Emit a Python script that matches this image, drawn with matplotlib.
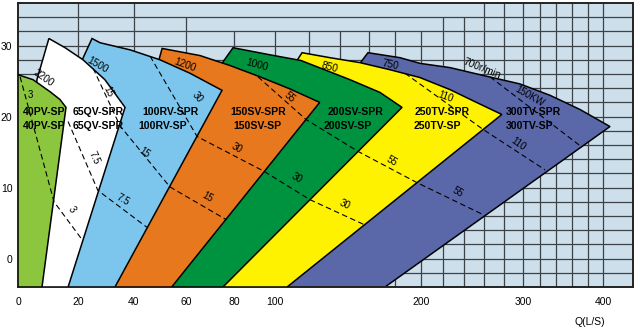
import numpy as np
import matplotlib.pyplot as plt
from matplotlib.patches import Polygon

plt.rcParams['font.family'] = ['Liberation Sans', 'DejaVu Sans']

# chart paper for Q: grid every 20 L/s, squeezed towards the high flows
paper_q = [0, 20, 40, 60, 80, 100, 120, 140, 160, 180, 200, 220, 240, 260,
           280, 300, 320, 340, 360, 380, 400, 440]
paper_u = [18, 78, 134, 186, 234, 275, 309, 340, 369, 395, 421, 443, 464, 484,
           504, 523, 540, 556, 572, 588, 603, 633]

# pump envelopes, Q (L/s) and H (m)
pv40_q = [0, 5, 10.7, 14, 16, 8, 0]
pv40_h = [25.9, 25.2, 23.5, 22.4, 21.3, -4, -4]

qv65_q = [10.3, 15.7, 21.8, 29.6, 36.8, 16.7, 4, 6.3]
qv65_h = [31.0, 29.7, 28.0, 25.2, 21.3, -4, -4, 25.2]

rv100_q = [25, 27.9, 38.6, 50, 61.7, 75, 33.2, 12.3, 20.7]
rv100_h = [31.0, 30.4, 29.4, 28.0, 26.1, 23.7, -4, -4, 27.3]

sv150_q = [50.8, 65.8, 78.3, 92.7, 108.8, 126.9, 54.5, 29.1, 49.6]
sv150_h = [29.6, 28.6, 27.2, 25.6, 23.9, 22.0, -4, -4, 28.0]

sv200_q = [79.6, 97.6, 115.3, 146.9, 168.5, 185.4, 75.4, 51.9, 75.4]
sv200_h = [29.7, 28.7, 27.9, 25.2, 23.4, 21.3, -4, -4, 27.7]

tv250_q = [115.9, 133.5, 153.8, 176.2, 199.2, 226.7, 251, 277.8, 107.1, 72.9, 112.4]
tv250_h = [29.0, 28.3, 27.6, 26.6, 25.5, 23.8, 22.1, 20.3, -4, -4, 27.7]

tv300_q = [159.3, 183.8, 199.2, 226.7, 256, 296.8, 332.5, 370, 409.3, 172.3, 103, 154.5]
tv300_h = [29.0, 28.3, 27.5, 26.9, 25.9, 24.6, 23.0, 21.0, 18.6, -4, -4, 27.7]

# shaft power lines (kW)
kw3_q, kw3_h = [0.7, 12, 21.4], [25.6, 8.0, 2.7]
kw7_q, kw7_h = [16.7, 27.1, 45], [19.3, 9.6, 4.4]
kw15_q, kw15_h = [25.4, 35, 53.8, 76.7], [26.8, 18.7, 10.1, 5.5]
kw30_q, kw30_h = [46.2, 64.6, 94.6, 120.6, 156.5], [28.5, 17.2, 12.3, 8.3, 4.8]
kw55_q, kw55_h = [91.7, 118.2, 152.4, 196.9, 259], [25.6, 19.6, 15.1, 10.7, 6.2]
kw110_q, kw110_h = [187.7, 259, 326.3], [26.1, 18.2, 12.5]
kw150_q, kw150_h = [266, 371.3], [25.6, 15.8]

# power labels: text, Q, H, angle
kw_labels = [('3', 4, 23.0, 0), ('3', 18, 6.9, -55),
             ('7.5', 25.7, 14.2, -65), ('7.5', 36.1, 8.3, -30),
             ('15', 30.8, 23.5, -65), ('15', 44.2, 14.9, -35), ('15', 68.8, 8.7, -30),
             ('30', 64.6, 22.8, -50), ('30', 81.5, 15.6, -30), ('30', 112.9, 11.4, -30),
             ('30', 143.5, 7.6, -25),
             ('55', 108.8, 22.8, -40), ('55', 177.7, 13.7, -30), ('55', 233.6, 9.3, -30),
             ('110', 222.9, 22.8, -20), ('110', 294.7, 16.1, -35),
             ('150KW', 307.8, 22.8, -30)]

# speed labels (r/min)
speed_labels = [('2200', 8.3, 25.5, -35), ('1500', 26.8, 27.3, -30),
                ('1200', 59.6, 27.3, -20), ('1000', 91.2, 27.2, -15),
                ('850', 133.5, 27.0, -15), ('750', 176.2, 27.3, -12),
                ('700r/min', 258, 26.8, -22)]

# model names
models = [('40PV-SP', 1.7, 20.7), ('40PV-SP', 1.7, 18.7),
          ('65QV-SPR', 18.3, 20.7), ('65QV-SPR', 18.3, 18.7),
          ('100RV-SPR', 43.1, 20.7), ('100RV-SP', 41.5, 18.7),
          ('150SV-SPR', 78.3, 20.7), ('150SV-SP', 79.6, 18.7),
          ('200SV-SPR', 132.2, 20.7), ('200SV-SP', 129.7, 18.7),
          ('250TV-SPR', 195.4, 20.7), ('250TV-SP', 194.6, 18.7),
          ('300TV-SPR', 282.1, 20.7), ('300TV-SP', 282.1, 18.7)]

x_ticks = [0, 20, 40, 60, 80, 100, 200, 300, 400]
y_ticks = [0, 10, 20, 30]


def fwd(q):
    return np.interp(q, paper_q, paper_u)


def inv(u):
    return np.interp(u, paper_u, paper_q)


fig = plt.figure(figsize=(6.4, 3.29), dpi=100)
ax = fig.add_axes([18 / 640, 1 - 287 / 329, 615 / 640, 284 / 329])
ax.set_xscale('function', functions=(fwd, inv))
ax.set_xlim(0, 440)
ax.set_ylim(-4, 36)
ax.set_facecolor('#cddfea')

# grid: short verticals only reach up to the rows they belong to
gcol = '#3c4248'
for q in range(20, 401, 20):
    if q in (20, 40) or q >= 260:
        top = 36
    elif q in (60, 220, 240):
        top = 34
    else:
        top = 32
    ax.vlines(q, -4, top, color=gcol, lw=0.9, zorder=1)
for h in range(-2, 35, 2):
    ax.hlines(h, 0, 440, color=gcol, lw=0.9, zorder=1)

envelopes = [(tv300_q, tv300_h, '#5a68aa'),
             (tv250_q, tv250_h, '#fff200'),
             (sv200_q, sv200_h, '#00933f'),
             (sv150_q, sv150_h, '#e8781e'),
             (rv100_q, rv100_h, '#7cc6ee'),
             (qv65_q, qv65_h, '#ffffff'),
             (pv40_q, pv40_h, '#8cc63f')]
for i, (qs, hs, col) in enumerate(envelopes):
    ax.add_patch(Polygon(np.column_stack([qs, hs]), closed=True, facecolor=col,
                         edgecolor='black', lw=1.1, zorder=2 + i))

for qs, hs in [(kw3_q, kw3_h), (kw7_q, kw7_h), (kw15_q, kw15_h), (kw30_q, kw30_h),
               (kw55_q, kw55_h), (kw110_q, kw110_h), (kw150_q, kw150_h)]:
    ax.plot(qs, hs, color='black', lw=0.8, dashes=(5, 3), zorder=10)

for txt, q, h, rot in kw_labels:
    ax.text(q, h, txt, fontsize=7, rotation=rot, ha='center', va='center',
            rotation_mode='anchor', zorder=11)
for txt, q, h, rot in speed_labels:
    ax.text(q, h, txt, fontsize=7.3, rotation=rot, ha='center', va='center',
            rotation_mode='anchor', zorder=11)

for txt, q, h in models:
    ax.text(q, h, txt, fontsize=7.6, fontweight='bold', ha='left', va='center',
            zorder=12)

ax.set_xticks(x_ticks)
ax.set_xticklabels([str(v) for v in x_ticks])
ax.set_yticks(y_ticks)
ax.tick_params(length=0, labelsize=7.5)
ax.tick_params(axis='x', pad=7)
ax.tick_params(axis='y', pad=4)
ax.minorticks_off()
for sp in ax.spines.values():
    sp.set_linewidth(1.4)
    sp.set_color('#222222')

fig.text(590 / 640, 1 - 322 / 329, 'Q(L/S)', fontsize=7.5, ha='center', va='center')

fig.savefig('out.png', dpi=100)
